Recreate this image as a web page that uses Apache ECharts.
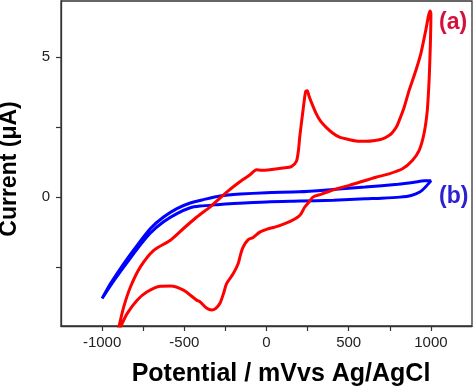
<!DOCTYPE html>
<html>
<head>
<meta charset="utf-8">
<script src="https://cdn.jsdelivr.net/npm/echarts@6/dist/echarts.min.js"></script>
<style>html,body{margin:0;padding:0;background:#fff;}#c{width:474px;height:388px;}</style>
</head>
<body>
<div id="c"></div>
<script>
// Curve (a): potential (mV) and current (µA), in scan order
var redX = [-910,-898,-868,-827,-767,-686,-585,-505,-424,-404,-333,-242,-162,-100,-61,-30,20,100,151,182,195,202,222,238,248,258,272,303,330,363,400,444,505,565,605,660,706,745,766,790,807,837,867,908,938,968,995,
  1000,997,992,988,978,958,928,887,827,746,666,565,504,440,383,330,282,255,232,210,191,150,100,50,0,-41,-81,-111,-142,-158,-172,-202,-242,-262,-283,-310,-333,-363,-404,-424,-505,-585,-646,-726,-787,-847,-888,-910];
var redY = [-4.92,-4.63,-3.91,-3.20,-2.49,-1.90,-1.54,-1.12,-0.71,-0.62,-0.30,0.18,0.55,0.80,0.98,0.96,0.98,1.04,1.09,1.28,1.70,2.14,3.09,3.77,3.80,3.62,3.40,2.97,2.70,2.49,2.30,2.14,2.05,1.99,1.99,2.02,2.08,2.20,2.31,2.50,2.73,3.20,3.80,4.51,5.10,5.93,6.64,
  6.55,5.50,4.60,4.04,3.09,2.26,1.66,1.31,1.01,0.83,0.71,0.53,0.42,0.32,0.21,0.10,0.00,-0.20,-0.36,-0.60,-0.71,-0.85,-0.97,-1.07,-1.15,-1.25,-1.44,-1.52,-1.78,-2.05,-2.37,-2.73,-3.08,-3.45,-3.79,-3.98,-4.03,-3.97,-3.74,-3.68,-3.32,-3.17,-3.18,-3.38,-3.68,-4.15,-4.63,-4.92];
// Curve (b)
var blueX = [-1000,-948,-868,-787,-706,-626,-545,-464,-384,-283,-160,0,200,400,600,800,900,960,1000,
  1000,970,932,880,811,700,600,407,200,0,-200,-300,-404,-464,-545,-626,-706,-787,-870,-948,-1000];
var blueY = [-3.62,-3.08,-2.37,-1.72,-1.12,-0.71,-0.41,-0.21,-0.09,0.04,0.11,0.16,0.19,0.27,0.36,0.46,0.53,0.58,0.58,
  0.56,0.38,0.18,0.06,0.00,-0.04,-0.06,-0.11,-0.14,-0.17,-0.23,-0.27,-0.32,-0.38,-0.59,-0.88,-1.28,-1.85,-2.51,-3.15,-3.62];
var xTicks = [-1000,-750,-500,-250,0,250,500,750,1000];
var xLabels = [-1000,-500,0,500,1000];
var yTicks = [-2.5,0,2.5,5];
var yLabels = [0,5];
var curveLabels = ['(a)','(b)'];

function pairs(xs, ys){ var o=[]; for(var i=0;i<xs.length;i++){o.push([xs[i],ys[i]]);} return o; }
var FONT = '"Liberation Sans", Arial, sans-serif';
var chart = echarts.init(document.getElementById('c'));
chart.setOption({
  animation:false,
  backgroundColor:'#fff',
  grid:{left:61,right:2,top:1,bottom:62,containLabel:false,outerBoundsMode:'none',show:true,borderColor:'#333',borderWidth:1.3,backgroundColor:'transparent'},
  xAxis:{
    type:'value',min:-1250,max:1250,
    name:'Potential / mVvs Ag/AgCl',nameLocation:'middle',nameGap:36,
    nameTextStyle:{fontFamily:FONT,fontSize:25,fontWeight:'bold',color:'#000',padding:[0,0,0,29]},
    axisLine:{show:true,onZero:false,lineStyle:{color:'#333',width:1.3}},
    axisTick:{show:true,inside:false,length:5,customValues:xTicks,lineStyle:{color:'#333',width:1.2}},
    axisLabel:{customValues:xLabels,margin:9,fontFamily:FONT,fontSize:15,color:'#222',formatter:function(v){return String(v);}},
    splitLine:{show:false}
  },
  yAxis:{
    type:'value',min:-4.6,max:7,
    name:'Current (μA)',nameLocation:'middle',nameGap:40,nameRotate:90,
    nameTextStyle:{fontFamily:FONT,fontSize:23,fontWeight:'bold',color:'#000',padding:[0,11,0,0]},
    axisLine:{show:true,onZero:false,lineStyle:{color:'#333',width:1.3}},
    axisTick:{show:true,inside:false,length:5,customValues:yTicks,lineStyle:{color:'#333',width:1.2}},
    axisLabel:{customValues:yLabels,margin:11,fontFamily:FONT,fontSize:15,color:'#222',formatter:function(v){return String(v);}},
    splitLine:{show:false}
  },
  graphic:[
    {type:'text',left:439,top:11,style:{text:curveLabels[0],fontFamily:FONT,fontSize:23,fontWeight:'bold',fill:'#d2123c'}},
    {type:'text',left:439,top:185,style:{text:curveLabels[1],fontFamily:FONT,fontSize:23,fontWeight:'bold',fill:'#2c20d2'}}
  ],
  series:[
    {type:'line',data:pairs(blueX,blueY),showSymbol:false,smooth:0.25,clip:true,lineStyle:{color:'#0000ff',width:3},z:2},
    {type:'line',data:pairs(redX,redY),showSymbol:false,smooth:0.25,clip:true,lineStyle:{color:'#ff0000',width:3},z:3}
  ]
});
</script>
</body>
</html>
